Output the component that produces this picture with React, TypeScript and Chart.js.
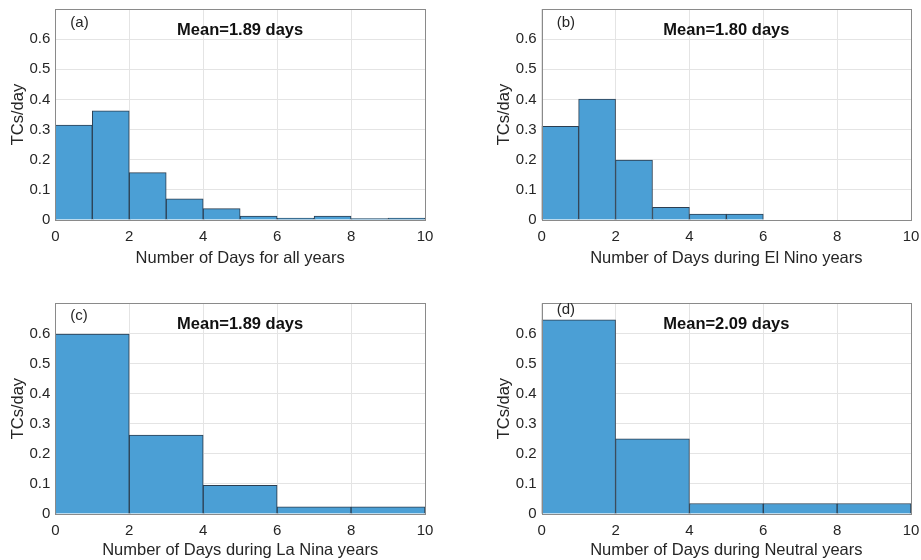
import React, { useEffect, useRef } from "react";
import { Chart, registerables } from "chart.js";

Chart.register(...registerables);

// ---- data ----
const centersOneDay = [0.5, 1.5, 2.5, 3.5, 4.5, 5.5, 6.5, 7.5, 8.5, 9.5];
const centersTwoDay = [1, 3, 5, 7, 9];

const valuesAll = [0.315, 0.362, 0.157, 0.07, 0.038, 0.013, 0.006, 0.013, 0.005, 0.006];
const valuesElNino = [0.311, 0.401, 0.199, 0.042, 0.02, 0.02, 0, 0, 0, 0];
const valuesLaNina = [0.598, 0.262, 0.095, 0.024, 0.024];
const valuesNeutral = [0.645, 0.25, 0.035, 0.035, 0.035];

const panelLabels = ["(a)", "(b)", "(c)", "(d)"];
const meanTexts = ["Mean=1.89 days", "Mean=1.80 days", "Mean=1.89 days", "Mean=2.09 days"];
const xTitles = [
  "Number of Days for all years",
  "Number of Days during El Nino years",
  "Number of Days during La Nina years",
  "Number of Days during Neutral years",
];
const yTitle = "TCs/day";
const xTicks = [0, 2, 4, 6, 8, 10];
const yTicks = [0, 0.1, 0.2, 0.3, 0.4, 0.5, 0.6, 0.7];

const FONT = "'Liberation Sans', Arial, sans-serif";
const TEXT = "#262626";

type PanelProps = {
  left: number;
  top: number;
  width: number;
  height: number;
  centers: number[];
  values: number[];
  label: string;
  mean: string;
  xTitle: string;
  padLeft: number;
  padRight: number;
  padTop: number;
  xAxisHeight: number;
  xTitlePad: number;
  labelDy: number;
};

const zeroPad = (s: any) => {
  s.paddingTop = 0;
  s.paddingBottom = 0;
  s.paddingLeft = 0;
  s.paddingRight = 0;
};

function Panel(p: PanelProps) {
  const ref = useRef<HTMLCanvasElement | null>(null);
  useEffect(() => {
    if (!ref.current) return;
    const overlay = {
      id: "overlay",
      afterDraw(chart: any) {
        const { ctx, chartArea } = chart;
        const { left, right, top, bottom } = chartArea;
        ctx.save();
        ctx.strokeStyle = "#8a8a8a";
        ctx.lineWidth = 1;
        ctx.strokeRect(Math.round(left) + 0.5, Math.round(top) + 0.5, Math.round(right - left), Math.round(bottom - top));
        ctx.fillStyle = TEXT;
        ctx.textBaseline = "middle";
        ctx.textAlign = "left";
        ctx.font = `15px ${FONT}`;
        ctx.fillText(p.label, left + 15, top + p.labelDy);
        ctx.textAlign = "center";
        ctx.font = `bold 16.5px ${FONT}`;
        ctx.fillStyle = "#111";
        ctx.fillText(p.mean, (left + right) / 2, top + 21);
        ctx.restore();
      },
    };
    const chart = new Chart(ref.current, {
      type: "bar",
      data: {
        datasets: [
          {
            data: p.centers.map((c, i) => ({ x: c, y: p.values[i] })),
            backgroundColor: "#4b9fd5",
            borderColor: "#2c3e50",
            borderWidth: 1,
            barPercentage: 1,
            categoryPercentage: 1,
          },
        ],
      },
      options: {
        animation: false,
        responsive: false,
        events: [],
        layout: { padding: { left: p.padLeft, right: p.padRight, top: p.padTop, bottom: 0 } },
        plugins: { legend: { display: false }, tooltip: { enabled: false } },
        scales: {
          x: {
            type: "linear",
            min: 0,
            max: 10,
            offset: false,
            afterBuildTicks: (s: any) => {
              s.ticks = xTicks.map((v) => ({ value: v }));
            },
            afterFit: (s: any) => {
              s.height = p.xAxisHeight;
              zeroPad(s);
            },
            ticks: {
              autoSkip: false,
              maxRotation: 0,
              padding: 8,
              color: TEXT,
              font: { family: FONT, size: 15 },
              callback: (v: any) => String(v),
            },
            grid: { color: "#e4e4e4", drawTicks: false, offset: false },
            border: { display: false },
            title: {
              display: true,
              text: p.xTitle,
              color: TEXT,
              font: { family: FONT, size: 16.5 },
              padding: { top: 0, bottom: p.xTitlePad },
            },
          },
          y: {
            min: 0,
            max: 0.7,
            afterBuildTicks: (s: any) => {
              s.ticks = yTicks.map((v) => ({ value: v }));
            },
            afterFit: (s: any) => {
              s.width = 55;
              zeroPad(s);
            },
            ticks: {
              autoSkip: false,
              padding: 5,
              color: TEXT,
              font: { family: FONT, size: 15 },
              callback: (v: any) => (v > 0.65 ? "" : String(Math.round(v * 10) / 10)),
            },
            grid: { color: "#e4e4e4", drawTicks: false },
            border: { display: false },
            title: {
              display: true,
              text: yTitle,
              color: TEXT,
              font: { family: FONT, size: 16.5 },
              padding: { top: 8, bottom: 0 },
            },
          },
        },
      },
      plugins: [overlay],
    } as any);
    return () => chart.destroy();
  }, []);
  return (
    <canvas
      ref={ref}
      width={p.width}
      height={p.height}
      style={{ position: "absolute", left: p.left, top: p.top, width: p.width, height: p.height, display: "block" }}
    />
  );
}

export default function App() {
  return (
    <div style={{ position: "absolute", left: 0, top: 0, width: 921, height: 560, background: "#fff", overflow: "hidden" }}>
      <Panel
        left={0} top={0} width={460} height={290}
        centers={centersOneDay} values={valuesAll}
        label={panelLabels[0]} mean={meanTexts[0]} xTitle={xTitles[0]}
        padLeft={0.3} padRight={35} padTop={9} xAxisHeight={70} xTitlePad={21.4} labelDy={14}
      />
      <Panel
        left={460} top={0} width={461} height={290}
        centers={centersOneDay} values={valuesElNino}
        label={panelLabels[1]} mean={meanTexts[1]} xTitle={xTitles[1]}
        padLeft={26.7} padRight={10} padTop={9} xAxisHeight={70} xTitlePad={21.4} labelDy={14}
      />
      <Panel
        left={0} top={290} width={460} height={270}
        centers={centersTwoDay} values={valuesLaNina}
        label={panelLabels[2]} mean={meanTexts[2]} xTitle={xTitles[2]}
        padLeft={0.3} padRight={35} padTop={13.3} xAxisHeight={46} xTitlePad={-0.6} labelDy={13}
      />
      <Panel
        left={460} top={290} width={461} height={270}
        centers={centersTwoDay} values={valuesNeutral}
        label={panelLabels[3]} mean={meanTexts[3]} xTitle={xTitles[3]}
        padLeft={26.7} padRight={10} padTop={13.3} xAxisHeight={46} xTitlePad={-0.6} labelDy={7}
      />
    </div>
  );
}
